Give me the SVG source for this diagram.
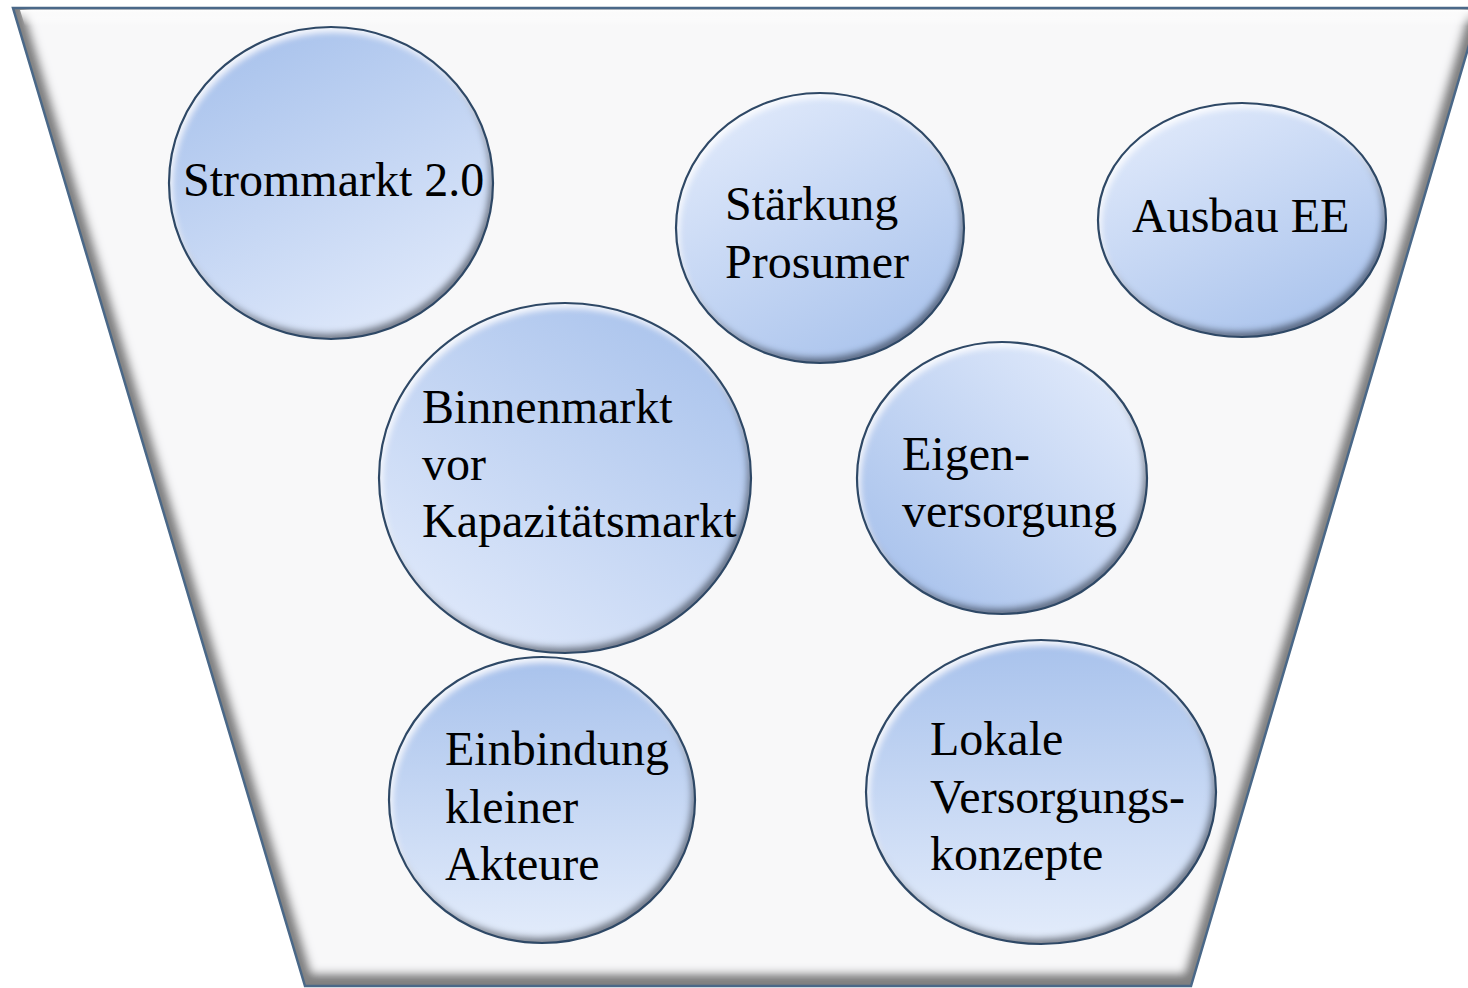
<svg xmlns="http://www.w3.org/2000/svg" width="1468" height="988" viewBox="0 0 1468 988">
  <style>
    .body { stroke: none; filter: url(#bevel); }
    .rim { fill: none; stroke: #2e4866; stroke-width: 2.2; }
    .lbl { font-family: "Liberation Serif", "Times New Roman", serif; font-size: 48px; fill: #000; }
  </style>
  <defs>
    <linearGradient id="gDownDark" x1="0.25" y1="0" x2="0.75" y2="1">
      <stop offset="0" stop-color="#a8c2ec"/>
      <stop offset="1" stop-color="#e1eafb"/>
    </linearGradient>
    <linearGradient id="gUpLight" x1="0.2" y1="0" x2="0.8" y2="1">
      <stop offset="0" stop-color="#e1eafb"/>
      <stop offset="1" stop-color="#a8c2ec"/>
    </linearGradient>
    <linearGradient id="gTRDark" x1="0.85" y1="0" x2="0.15" y2="1">
      <stop offset="0" stop-color="#a8c2ec"/>
      <stop offset="1" stop-color="#e1eafb"/>
    </linearGradient>
    <linearGradient id="gTRLight" x1="0.9" y1="0.1" x2="0.1" y2="0.9">
      <stop offset="0" stop-color="#e1eafb"/>
      <stop offset="1" stop-color="#a8c2ec"/>
    </linearGradient>
    <linearGradient id="gVert" x1="0" y1="0" x2="0" y2="1">
      <stop offset="0" stop-color="#a8c2ec"/>
      <stop offset="1" stop-color="#e3ecfb"/>
    </linearGradient>
    <linearGradient id="topGlow" x1="0" y1="0" x2="0" y2="1">
      <stop offset="0" stop-color="#ffffff" stop-opacity="1"/>
      <stop offset="1" stop-color="#ffffff" stop-opacity="0"/>
    </linearGradient>
    <filter id="bevel" x="-5%" y="-5%" width="110%" height="110%">
      <feGaussianBlur in="SourceAlpha" stdDeviation="3" result="b"/>
      <feOffset in="b" dx="-4" dy="-6" result="o1"/>
      <feComposite in="SourceAlpha" in2="o1" operator="out" result="r1"/>
      <feFlood flood-color="#18243a" flood-opacity="0.75"/>
      <feComposite in2="r1" operator="in" result="sh"/>
      <feOffset in="b" dx="3" dy="5" result="o2"/>
      <feComposite in="SourceAlpha" in2="o2" operator="out" result="r2"/>
      <feFlood flood-color="#ffffff" flood-opacity="0.85"/>
      <feComposite in2="r2" operator="in" result="hl"/>
      <feMerge>
        <feMergeNode in="SourceGraphic"/>
        <feMergeNode in="sh"/>
        <feMergeNode in="hl"/>
      </feMerge>
    </filter>
    <filter id="trapBevel" x="-3%" y="-3%" width="106%" height="106%">
      <feMorphology in="SourceAlpha" operator="erode" radius="7" result="er"/>
      <feGaussianBlur in="er" stdDeviation="4" result="bl"/>
      <feOffset in="bl" dy="-6" result="of"/>
      <feComposite in="SourceAlpha" in2="of" operator="out" result="rim"/>
      <feFlood flood-color="#333333" flood-opacity="0.8"/>
      <feComposite in2="rim" operator="in" result="sh"/>
      <feMerge>
        <feMergeNode in="SourceGraphic"/>
        <feMergeNode in="sh"/>
      </feMerge>
    </filter>
  </defs>

  <rect x="0" y="0" width="1468" height="988" fill="#ffffff"/>

  <g id="funnel">
    <polygon points="13,8 1480,8 1191,986 305,986" fill="#f8f8f9" filter="url(#trapBevel)"/>
    <polygon points="20,10 1475,10 1470,26 25,26" fill="url(#topGlow)"/>
    <polygon points="13,8 1480,8 1191,986 305,986" fill="none" stroke="#4a6888" stroke-width="2.5"/>
  </g>

  <g id="node-strommarkt">
    <ellipse class="body" cx="331" cy="183" rx="162" ry="156" fill="url(#gDownDark)"/>
    <ellipse class="rim" cx="331" cy="183" rx="162" ry="156"/>
    <text class="lbl" x="183" y="196">Strommarkt 2.0</text>
  </g>

  <g id="node-staerkung">
    <ellipse class="body" cx="820" cy="228" rx="144" ry="135" fill="url(#gUpLight)"/>
    <ellipse class="rim" cx="820" cy="228" rx="144" ry="135"/>
    <text class="lbl" x="725" y="220">Stärkung</text>
    <text class="lbl" x="725" y="278">Prosumer</text>
  </g>

  <g id="node-ausbau">
    <ellipse class="body" cx="1242" cy="220" rx="144" ry="117" fill="url(#gUpLight)"/>
    <ellipse class="rim" cx="1242" cy="220" rx="144" ry="117"/>
    <text class="lbl" x="1132" y="232">Ausbau EE</text>
  </g>

  <g id="node-binnenmarkt">
    <ellipse class="body" cx="565" cy="478" rx="186" ry="175" fill="url(#gTRDark)"/>
    <ellipse class="rim" cx="565" cy="478" rx="186" ry="175"/>
    <text class="lbl" x="422" y="423">Binnenmarkt</text>
    <text class="lbl" x="422" y="480">vor</text>
    <text class="lbl" x="422" y="537">Kapazitätsmarkt</text>
  </g>

  <g id="node-eigenversorgung">
    <ellipse class="body" cx="1002" cy="478" rx="145" ry="136" fill="url(#gTRLight)"/>
    <ellipse class="rim" cx="1002" cy="478" rx="145" ry="136"/>
    <text class="lbl" x="902" y="470">Eigen-</text>
    <text class="lbl" x="902" y="527">versorgung</text>
  </g>

  <g id="node-einbindung">
    <ellipse class="body" cx="542" cy="800" rx="153" ry="143" fill="url(#gVert)"/>
    <ellipse class="rim" cx="542" cy="800" rx="153" ry="143"/>
    <text class="lbl" x="445" y="765">Einbindung</text>
    <text class="lbl" x="445" y="823">kleiner</text>
    <text class="lbl" x="445" y="880">Akteure</text>
  </g>

  <g id="node-lokale">
    <ellipse class="body" cx="1041" cy="792" rx="175" ry="152" fill="url(#gVert)"/>
    <ellipse class="rim" cx="1041" cy="792" rx="175" ry="152"/>
    <text class="lbl" x="930" y="755">Lokale</text>
    <text class="lbl" x="930" y="813">Versorgungs-</text>
    <text class="lbl" x="930" y="870">konzepte</text>
  </g>

  <g id="connectors"/>
</svg>
